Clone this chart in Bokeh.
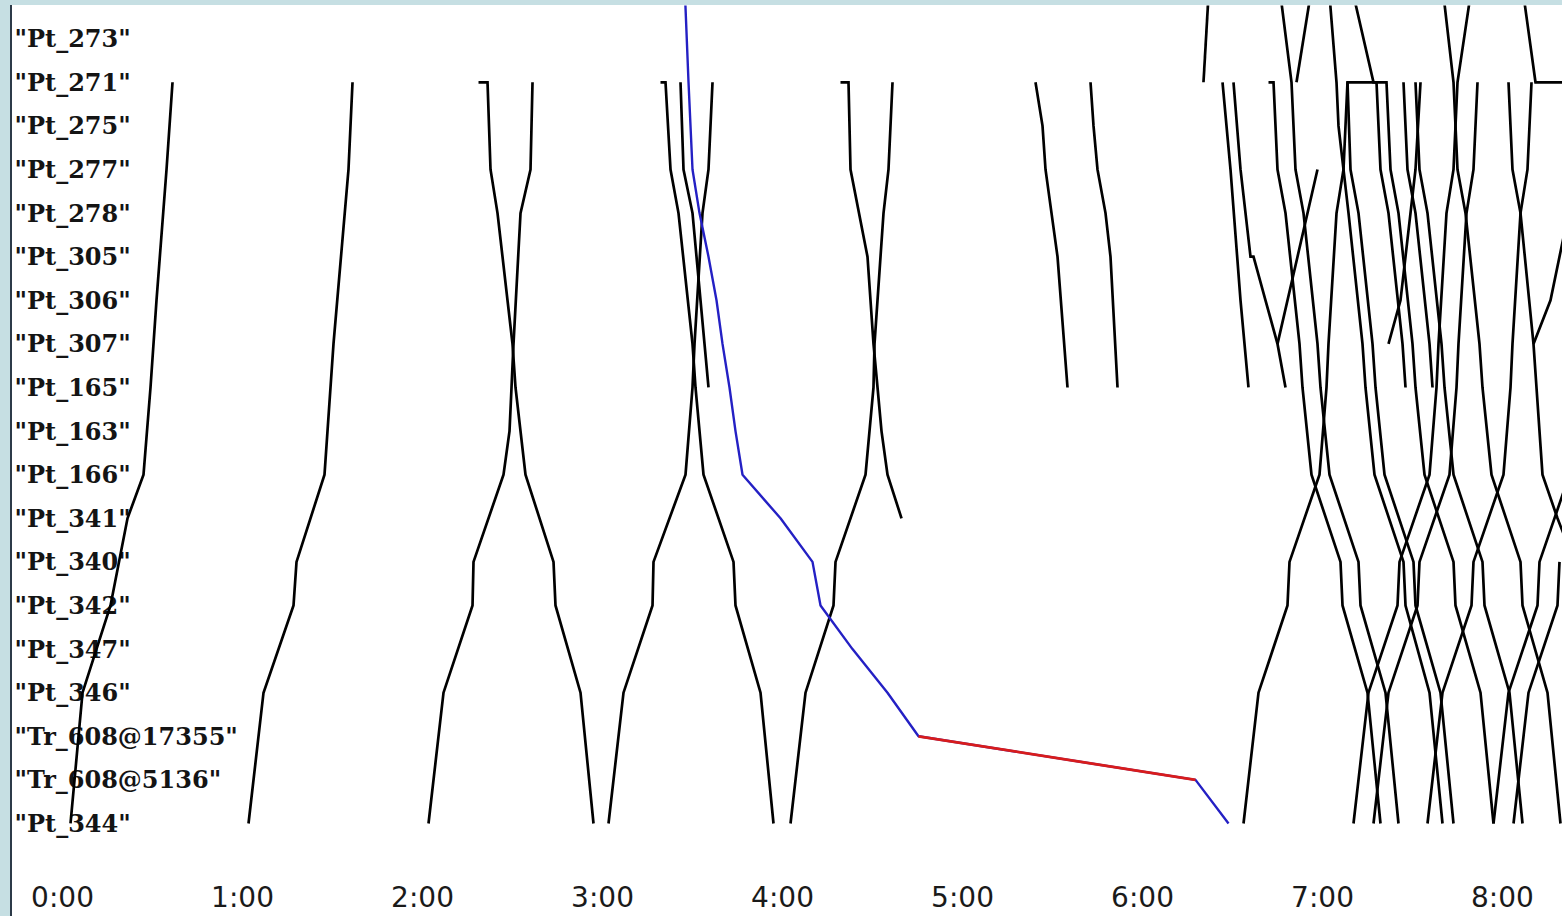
from bokeh.plotting import figure
from bokeh.layouts import column, row
from bokeh.models import Range1d, FixedTicker, Spacer
from bokeh.core.properties import value
from bokeh.embed import file_html
from bokeh.resources import INLINE

# Stations, bottom (index 0) to top (index 18); index 19 lies just beyond the top edge
stations = ["Pt_344", "Tr_608@5136", "Tr_608@17355", "Pt_346", "Pt_347", "Pt_342",
            "Pt_340", "Pt_341", "Pt_166", "Pt_163", "Pt_165", "Pt_307", "Pt_306",
            "Pt_305", "Pt_278", "Pt_277", "Pt_275", "Pt_271", "Pt_273"]

hour_ticks = [0, 60, 120, 180, 240, 300, 360, 420, 480]
hour_labels = ["0:00", "1:00", "2:00", "3:00", "4:00", "5:00", "6:00", "7:00", "8:00"]

# Train paths: times in minutes after 0:00, stops as station indices
train_times = [
    [2.67, 6.67, 16, 21.67, 27, 29.33, 31.33, 34.67, 36.67],
    [62, 67, 77, 78, 87.33, 89.33, 90.33, 95.33, 96.67],
    [122, 127, 136.67, 137, 147, 149, 149.67, 150.33, 152.67, 156, 156.67],
    [138.67, 141.67, 142.67, 145, 150, 151, 154.33, 163.67, 164.33, 172.67, 177],
    [182, 187, 196.67, 197, 207.67, 210, 210.67, 213.33, 215.33, 216.67],
    [199.33, 201, 202.67, 205.33, 210, 211, 213.67, 223.67, 224.33, 232.67, 237],
    [206, 207, 210, 214, 215.33],
    [242.67, 247.67, 257, 257.67, 267.67, 270.33, 270.67, 273.67, 275.33, 276.67],
    [259.33, 262, 262.67, 268.33, 270.33, 271.67, 273, 275, 279.67],
    [324.33, 326.67, 327.67, 329.67, 331.67, 335],
    [342.67, 343.67, 345, 347.67, 349.33, 351.67],
    [380.33, 382],
    [411.33, 416],
    [386.67, 389.33, 392.67, 395.33],
    [390.33, 392.67, 396, 397, 401, 405, 407.67],
    [393.67, 398.67, 408.33, 409, 419, 421.33, 422, 424.67, 427, 428.33, 437],
    [405, 411.67, 418.33],
    [406, 409.67, 411, 413.67, 418.33, 419.33, 422.33, 432, 432.67, 441, 445.33],
    [402, 403.67, 405, 407.67, 412.33, 413.33, 416.33, 426, 426.67, 435, 439.33],
    [428.33, 429.33, 432, 436.67, 437.67, 440.67, 450.33, 451, 459.33, 463.67],
    [422.33, 424.67, 425.33, 428.67, 433.33, 434.33, 437.33, 447, 447.67, 455.67, 460],
    [430.33, 435.33, 445, 445.67, 455.67, 458, 458.67, 461.33, 463.67, 465, 469.33],
    [430.33, 437, 438, 439.33, 442, 446.67, 447.67],
    [437, 442, 451.67, 452.33, 462.33, 464.67, 465.33, 468, 470.33, 471.67],
    [437, 441.33, 442.67, 445.33, 450, 451, 454, 463.67, 464.33, 472.67, 477],
    [442, 446, 449.33, 451, 452.67],
    [447, 448.33, 451, 455.67, 456.67],
    [451, 452.33, 455, 459.67, 460.67, 463.67, 473.33, 474, 482.33, 486.67],
    [455, 460, 469.67, 470.33, 480.33, 482.67, 483.33, 486, 488.33, 489.67],
    [460.33, 463.67, 465, 467.67, 472.33, 473.33, 476.33, 486, 486.67, 495, 499.33],
    [477, 482, 491.67, 492.33, 502.33],
    [483.67, 488.67, 498.33, 499],
    [490.33, 496, 502],
    [482, 483.33, 486, 490.33, 491.33, 493.33, 498.33, 504],
    [487, 491, 500],
]
train_stops = [
    [0, 3, 5, 7, 8, 10, 12, 15, 17],
    [0, 3, 5, 6, 8, 10, 11, 15, 17],
    [0, 3, 5, 6, 8, 9, 10, 11, 14, 15, 17],
    [17, 17, 15, 14, 11, 10, 8, 6, 5, 3, 0],
    [0, 3, 5, 6, 8, 10, 11, 14, 15, 17],
    [17, 17, 15, 14, 11, 10, 8, 6, 5, 3, 0],
    [17, 15, 14, 11, 10],
    [0, 3, 5, 6, 8, 10, 11, 14, 15, 17],
    [17, 17, 15, 13, 11, 10, 9, 8, 7],
    [17, 16, 15, 14, 13, 10],
    [17, 16, 15, 14, 13, 10],
    [17, 19],
    [17, 19],
    [17, 15, 12, 10],
    [17, 15, 13, 13, 12, 11, 10],
    [0, 3, 5, 6, 8, 10, 11, 14, 15, 17, 17],
    [11, 13, 15],
    [19, 17, 15, 14, 11, 10, 8, 6, 5, 3, 0],
    [17, 17, 15, 14, 11, 10, 8, 6, 5, 3, 0],
    [17, 15, 14, 11, 10, 8, 6, 5, 3, 0],
    [19, 17, 16, 14, 11, 10, 8, 6, 5, 3, 0],
    [0, 3, 5, 6, 8, 10, 11, 14, 15, 17, 19],
    [19, 17, 17, 15, 14, 11, 10],
    [0, 3, 5, 6, 8, 10, 11, 14, 15, 17],
    [17, 17, 15, 14, 11, 10, 8, 6, 5, 3, 0],
    [11, 12, 14, 15, 17],
    [17, 15, 14, 11, 10],
    [17, 15, 14, 11, 10, 8, 6, 5, 3, 0],
    [0, 3, 5, 6, 8, 10, 11, 14, 15, 17],
    [19, 17, 15, 14, 11, 10, 8, 6, 5, 3, 0],
    [0, 3, 5, 6, 8],
    [0, 3, 5, 6],
    [11, 12, 14],
    [17, 15, 14, 11, 10, 8, 7, 6],
    [19, 17, 17],
]

# Highlighted train (blue), with its conflicting section (red)
blue_times = [207.5, 208.67, 210, 212.33, 215.33, 218, 220, 222.33, 224.33, 226.67,
              239.33, 250, 252.67, 263.33, 275, 285.33, 377.67, 388.67]
blue_stops = [19, 17, 15, 14, 13, 12, 11, 10, 9, 8, 7, 6, 5, 4, 3, 2, 1, 0]
red_times = [285.33, 377.67]
red_stops = [2, 1]

x_start, x_end = -16.67, 500.0
y_start, y_end = -0.39, 18.761

fig = figure(width=1550, height=911, output_backend="svg", toolbar_location=None,
             x_range=Range1d(x_start, x_end), y_range=Range1d(y_start, y_end),
             min_border_left=0, min_border_right=0, min_border_top=0, min_border_bottom=76,
             background_fill_color="white", border_fill_color="white")
fig.outline_line_color = None
fig.xgrid.visible = False
fig.ygrid.visible = False
fig.yaxis.visible = False

xa = fig.xaxis[0]
xa.ticker = FixedTicker(ticks=hour_ticks)
xa.major_label_overrides = {t: l for t, l in zip(hour_ticks, hour_labels)}
xa.axis_line_color = None
xa.major_tick_line_color = None
xa.minor_tick_line_color = None
xa.major_label_text_font = "DejaVu Sans"
xa.major_label_text_font_size = "28px"
xa.major_label_text_color = "#1a1a1a"
xa.major_label_standoff = 34

# station labels drawn inside the plot area, under the train paths
fig.text(x=[x_start + 0.67] * len(stations), y=list(range(len(stations))),
         text=['"%s"' % s for s in stations],
         text_font=value("DejaVu Serif"), text_font_style="bold",
         text_font_size="24px", text_color="#141414",
         text_align="left", text_baseline="alphabetic")

fig.multi_line(xs=train_times, ys=train_stops, line_color="black", line_width=2.7,
               line_join="miter")
fig.line(blue_times, blue_stops, line_color="#2420c4", line_width=2.4)
fig.line(red_times, red_stops, line_color="#d81c1c", line_width=2.8)

# light window-frame strips on the top and left edges, and the dark left rule
band = {"background-color": "#c6dfe3"}
edge = {"background-color": "#2c3a48"}
p = column(Spacer(width=1562, height=5, styles=band),
           row(Spacer(width=10, height=911, styles=band),
               Spacer(width=2, height=911, styles=edge), fig, spacing=0),
           spacing=0)

open("out.html", "w").write(file_html(p, INLINE))
